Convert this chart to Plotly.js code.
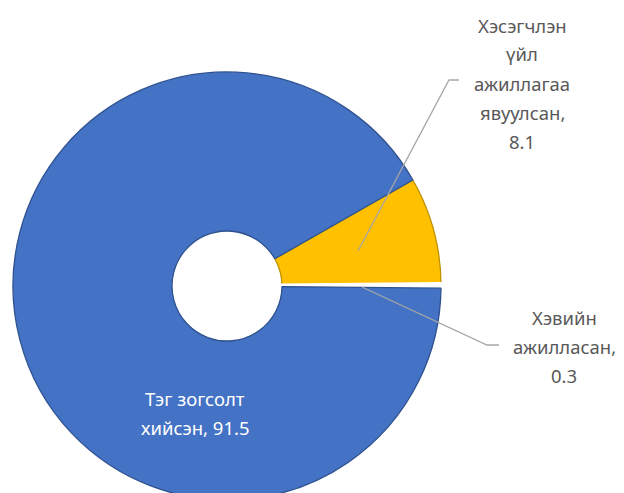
<!DOCTYPE html>
<html>
<head>
<meta charset="utf-8">
<script src="https://cdn.plot.ly/plotly-3.0.1.min.js"></script>
<style>
  html, body { margin: 0; padding: 0; width: 624px; height: 493px; overflow: hidden; background: #fff; }
  #chart { width: 624px; height: 520px; }
</style>
</head>
<body>
<div id="chart"></div>
<script>
    // Data
    const categories = ['Хэсэгчлэн үйл ажиллагаа явуулсан', 'Хэвийн ажилласан', 'Тэг зогсолт хийсэн'];
    const values = [8.1, 0.3, 91.5];
    const labelLines = [
        ['Хэсэгчлэн', 'үйл', 'ажиллагаа', 'явуулсан,', '8.1'],
        ['Хэвийн', 'ажилласан,', '0.3'],
        ['Тэг зогсолт', 'хийсэн, 91.5']
    ];

    // Styles
    const sliceColors = ['#FFC000', '#FFFFFF', '#4472C4'];
    const edgeColors = ['#BF9000', '#FFFFFF', '#2F528F'];
    const edgeWidths = [1.3, 4, 1.3];
    const textColors = ['#595959', '#595959', '#FFFFFF'];

    // Figure size (taller than the window so the bottom of the ring is cut off)
    const W = 624, H = 520;
    const px = x => x / W;
    const py = y => (H - y) / H;

    // Label placement in pixels: centre x, first line y, line step
    const labelPos = [
        { x: 522, y: 25, step: 29 },
        { x: 564, y: 317, step: 29 },
        { x: 195, y: 398, step: 29 }
    ];

    // Leader lines (pixels)
    const leaders = [
        [[358, 251], [449, 80], [459, 80]],
        [[362, 287], [487, 345], [499, 345]]
    ];

    const trace = {
        type: 'pie',
        labels: categories,
        values: values,
        sort: false,
        direction: 'clockwise',
        rotation: 60.3,
        hole: 0.257,
        textinfo: 'none',
        hoverinfo: 'label+value',
        marker: {
            colors: sliceColors,
            line: { color: edgeColors, width: edgeWidths }
        },
        domain: { x: [px(13), px(441)], y: [py(500), py(72)] },
        showlegend: false
    };

    const annotations = [];
    labelLines.forEach((lines, i) => {
        const p = labelPos[i];
        lines.forEach((line, j) => {
            annotations.push({
                xref: 'paper', yref: 'paper',
                x: px(p.x), y: py(p.y + j * p.step),
                xanchor: 'center', yanchor: 'middle',
                text: line, showarrow: false,
                font: { family: 'Noto Sans, sans-serif', size: 18.5, color: textColors[i] }
            });
        });
    });

    const shapes = leaders.map(pts => ({
        type: 'path',
        xref: 'paper', yref: 'paper',
        path: 'M' + pts.map(p => px(p[0]) + ',' + py(p[1])).join(' L'),
        line: { color: '#A6A6A6', width: 1.3 }
    }));

    const layout = {
        width: W,
        height: H,
        margin: { t: 0, r: 0, b: 0, l: 0 },
        paper_bgcolor: '#FFFFFF',
        annotations: annotations,
        shapes: shapes
    };

    Plotly.newPlot('chart', [trace], layout, { displayModeBar: false, staticPlot: true });
</script>
</body>
</html>
